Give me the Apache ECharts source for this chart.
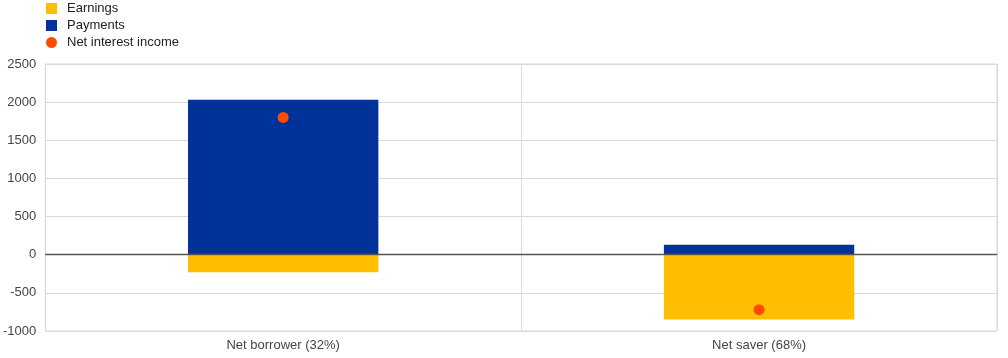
<!DOCTYPE html>
<html>
<head>
<meta charset="utf-8">
<script src="https://cdn.jsdelivr.net/npm/echarts@6/dist/echarts.min.js"></script>
<style>html,body{margin:0;padding:0;background:#fff;}#c{width:1008px;height:358px;}</style>
</head>
<body>
<div id="c"></div>
<script>
const categories = ["Net borrower (32%)", "Net saver (68%)"];
const earnings = [-230, -850];
const payments = [2030, 130];
const netInterest = [1800, -720];
const yTicks = { min: -1000, max: 2500, interval: 500 };

const chart = echarts.init(document.getElementById('c'), null, { renderer: 'canvas' });
const font = 'Arial, "Liberation Sans", sans-serif';
chart.setOption({
  animation: false,
  textStyle: { fontFamily: font },
  legend: {
    orient: 'vertical', left: 46, top: 2, padding: 0, itemWidth: 11, itemHeight: 11, itemGap: 4,
    textStyle: { fontSize: 13, color: '#222', fontFamily: font, padding: [0, 0, 0, 5] },
    data: [
      { name: 'Earnings', icon: 'rect' },
      { name: 'Payments', icon: 'rect' },
      { name: 'Net interest income', icon: 'circle' }
    ]
  },
  grid: { left: 45, right: 11, top: 64, bottom: 27, show: true, borderColor: '#d9d9d9', borderWidth: 1 },
  xAxis: {
    type: 'category', data: categories,
    axisLine: { show: false }, axisTick: { show: false },
    axisLabel: { color: '#444', fontSize: 13, margin: 8, fontFamily: font },
    splitLine: { show: true, lineStyle: { color: '#d9d9d9' } }
  },
  yAxis: {
    type: 'value', min: yTicks.min, max: yTicks.max, interval: yTicks.interval,
    axisLine: { show: false }, axisTick: { show: false },
    axisLabel: { color: '#444', fontSize: 13, margin: 9, fontFamily: font, formatter: v => String(v) },
    splitLine: { lineStyle: { color: '#d9d9d9' } }
  },
  series: [
    { name: 'Earnings', type: 'bar', stack: 's', data: earnings, barWidth: '40%', itemStyle: { color: '#FFBF00' } },
    { name: 'Payments', type: 'bar', stack: 's', data: payments, barWidth: '40%', itemStyle: { color: '#003299' },
      markLine: { silent: true, symbol: 'none', label: { show: false }, lineStyle: { color: '#555', width: 1.3, type: 'solid' }, data: [{ yAxis: 0 }] } },
    { name: 'Net interest income', type: 'scatter', data: netInterest, symbolSize: 11, itemStyle: { color: '#FF4B00', opacity: 1 }, z: 5 }
  ]
});
</script>
</body>
</html>
